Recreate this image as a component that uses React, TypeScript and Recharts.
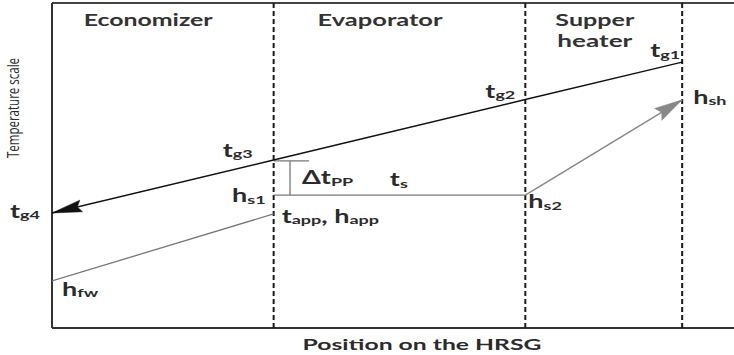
import React from 'react';
import { ComposedChart, Line, XAxis, YAxis, ReferenceLine, ReferenceDot } from 'recharts';

// position along the HRSG (0..100) vs temperature scale (0..100)
const sectionBounds = [32.5, 69.4, 92.4];
const sectionTitles = [['Economizer'], ['Evaporator'], ['Supper', 'heater']];
const sectionTitleX = [14.1, 48.1, 79.6];
const sectionTitleLen = [[129], [125], [79, 75]];

const gasX = [92.4, 69.4, 32.5, 0];
const gasT = [81.8, 70.3, 51.7, 35.4];
const econX = [0, 32.5];
const econT = [14.5, 35.1];
const evapX = [32.5, 69.4];
const evapT = [40.9, 40.9];
const superX = [69.4, 92.4];
const superT = [40.9, 70.2];
const pinchTopX = [32.5, 37.7];
const pinchTopT = [51.4, 51.4];
const pinchBarX = [34.9, 34.9];
const pinchBarT = [51.4, 40.9];

type Part = { s: string; sub?: boolean };
type PointLabel = { parts: Part[]; x: number; t: number; dx: number; dy: number; anchor: 'start' | 'middle' | 'end' };

const pointLabels: PointLabel[] = [
  { parts: [{ s: 't' }, { s: 'g1', sub: true }], x: 92.4, t: 81.8, dx: -2, dy: -5, anchor: 'end' },
  { parts: [{ s: 't' }, { s: 'g2', sub: true }], x: 69.4, t: 70.3, dx: -10, dy: -2, anchor: 'end' },
  { parts: [{ s: 't' }, { s: 'g3', sub: true }], x: 32.5, t: 51.7, dx: -21, dy: -3, anchor: 'end' },
  { parts: [{ s: 't' }, { s: 'g4', sub: true }], x: 0, t: 35.4, dx: -42, dy: 5, anchor: 'start' },
  { parts: [{ s: 'h' }, { s: 'fw', sub: true }], x: 0, t: 14.5, dx: 10, dy: 15, anchor: 'start' },
  { parts: [{ s: 'h' }, { s: 's1', sub: true }], x: 32.5, t: 40.9, dx: -8, dy: 7, anchor: 'end' },
  { parts: [{ s: 't' }, { s: 'app', sub: true }, { s: ', ' }, { s: 'h' }, { s: 'app', sub: true }], x: 32.5, t: 35.1, dx: 8, dy: 9, anchor: 'start' },
  { parts: [{ s: '\u0394t' }, { s: 'PP', sub: true }], x: 34.9, t: 40.9, dx: 12, dy: -11, anchor: 'start' },
  { parts: [{ s: 't' }, { s: 's', sub: true }], x: 51, t: 40.9, dx: -1, dy: -9, anchor: 'middle' },
  { parts: [{ s: 'h' }, { s: 's2', sub: true }], x: 69.4, t: 40.9, dx: 3, dy: 13, anchor: 'start' },
  { parts: [{ s: 'h' }, { s: 'sh', sub: true }], x: 92.4, t: 70.2, dx: 11, dy: 4, anchor: 'start' },
];

const toPoints = (xs: number[], ts: number[]) => xs.map((x, i) => ({ x, t: ts[i] }));

const TEXT = '#2b2b2b';
const FONT = 'Lato, "Open Sans", sans-serif';
const STRETCH = 1.5;

// draws a filled arrowhead on the last point of a line, aimed along the last segment
function arrowDot(count: number, fill: string, len: number, half: number) {
  let prev: { x: number; y: number } | null = null;
  return (props: any) => {
    const { cx, cy, index, points } = props;
    if (index < count - 1) {
      prev = { x: cx, y: cy };
      return <g key={`d${index}`} />;
    }
    const p = points && points[index - 1] ? { x: points[index - 1].x, y: points[index - 1].y } : prev;
    if (!p) return <g key={`d${index}`} />;
    const vx = cx - p.x;
    const vy = cy - p.y;
    const d = Math.hypot(vx, vy) || 1;
    const ux = vx / d;
    const uy = vy / d;
    const bx = cx - ux * len;
    const by = cy - uy * len;
    const nx = -uy;
    const ny = ux;
    const pts = [
      [cx, cy],
      [bx + nx * half, by + ny * half],
      [bx + ux * 4, by + uy * 4],
      [bx - nx * half, by - ny * half],
    ]
      .map((q) => q.join(','))
      .join(' ');
    return <polygon key={`d${index}`} points={pts} fill={fill} stroke={fill} strokeWidth={0.5} />;
  };
}

function SubText({ cx, cy, label }: { cx: number; cy: number; label: PointLabel }) {
  let lifted = false;
  return (
    <g transform={`translate(${cx + label.dx},${cy + label.dy}) scale(${STRETCH},1)`}>
      <text x={0} y={0} textAnchor={label.anchor} fontFamily={FONT} fontWeight="bold" fill={TEXT}>
        {label.parts.map((p, i) => {
          let dy = 0;
          if (p.sub && !lifted) {
            dy = 1.5;
            lifted = true;
          } else if (!p.sub && lifted) {
            dy = -1.5;
            lifted = false;
          }
          return (
            <tspan key={i} dy={dy} fontSize={p.sub ? 12 : 18}>
              {p.s}
            </tspan>
          );
        })}
      </text>
    </g>
  );
}

const YTitle = (props: any) => {
  const vb = props.viewBox || { x: 0, y: 3 };
  const x = vb.x + 19;
  const y = vb.y + 105;
  return (
    <text
      x={x}
      y={y}
      transform={`rotate(-90, ${x}, ${y})`}
      textAnchor="middle"
      fontFamily='"Open Sans", sans-serif'
      fontSize={16}
      fill={TEXT}
      textLength={100}
      lengthAdjust="spacingAndGlyphs"
    >
      Temperature scale
    </text>
  );
};

const XTitle = (props: any) => {
  const vb = props.viewBox || { x: 52, y: 328 };
  const x = vb.x + 370;
  const y = vb.y + 22;
  return (
    <text
      x={x}
      y={y}
      textAnchor="middle"
      fontFamily={FONT}
      fontWeight="bold"
      fontSize={15}
      fill={TEXT}
      textLength={239}
      lengthAdjust="spacingAndGlyphs"
    >
      Position on the HRSG
    </text>
  );
};

export default function App() {
  const gas = toPoints(gasX, gasT);
  const superheat = toPoints(superX, superT);

  return (
    <div style={{ position: 'absolute', left: 0, top: 0, background: '#fff' }}>
      <ComposedChart width={734} height={355} margin={{ top: 3, right: 0, bottom: 0, left: 0 }}>
        <XAxis
          type="number"
          dataKey="x"
          domain={[0, 100]}
          allowDataOverflow
          tick={false}
          tickLine={false}
          axisLine={false}
          height={27}
          label={{ content: XTitle }}
        />
        <YAxis
          type="number"
          dataKey="t"
          domain={[0, 100]}
          allowDataOverflow
          tick={false}
          tickLine={false}
          axisLine={false}
          width={52}
          label={{ content: YTitle }}
        />

        <ReferenceLine y={100} stroke="#444" strokeWidth={2} />
        <ReferenceLine y={0} stroke="#333" strokeWidth={2} />
        <ReferenceLine x={0} stroke="#333" strokeWidth={2} />
        {sectionBounds.map((b) => (
          <ReferenceLine key={b} x={b} stroke="#1a1a1a" strokeWidth={2} strokeDasharray="5 3" />
        ))}

        {sectionTitles.map((lines, i) =>
          lines.map((s, j) => (
            <ReferenceDot
              key={`${i}-${j}`}
              x={sectionTitleX[i]}
              y={100}
              r={0}
              shape={(p: any) => (
                <text
                  x={p.cx}
                  y={p.cy + 22.5 + j * 21}
                  textAnchor="middle"
                  fontFamily={FONT}
                  fontWeight="bold"
                  fontSize={17}
                  fill="#333"
                  textLength={sectionTitleLen[i][j]}
                  lengthAdjust="spacingAndGlyphs"
                >
                  {s}
                </text>
              )}
            />
          ))
        )}

        <Line data={toPoints(econX, econT)} dataKey="t" type="linear" stroke="#777" strokeWidth={1.3} dot={false} isAnimationActive={false} />
        <Line data={toPoints(evapX, evapT)} dataKey="t" type="linear" stroke="#777" strokeWidth={1.3} dot={false} isAnimationActive={false} />
        <Line data={toPoints(pinchTopX, pinchTopT)} dataKey="t" type="linear" stroke="#777" strokeWidth={1.3} dot={false} isAnimationActive={false} />
        <Line data={toPoints(pinchBarX, pinchBarT)} dataKey="t" type="linear" stroke="#777" strokeWidth={1.3} dot={false} isAnimationActive={false} />
        <Line
          data={superheat}
          dataKey="t"
          type="linear"
          stroke="#888"
          strokeWidth={1.5}
          dot={arrowDot(superheat.length, '#888', 28, 7)}
          activeDot={false}
          isAnimationActive={false}
        />
        <Line
          data={gas}
          dataKey="t"
          type="linear"
          stroke="#111"
          strokeWidth={1.4}
          dot={arrowDot(gas.length, '#111', 30, 6)}
          activeDot={false}
          isAnimationActive={false}
        />

        {pointLabels.map((l, i) => (
          <ReferenceDot key={`l${i}`} x={l.x} y={l.t} r={0} shape={(p: any) => <SubText cx={p.cx} cy={p.cy} label={l} />} />
        ))}
      </ComposedChart>
    </div>
  );
}
